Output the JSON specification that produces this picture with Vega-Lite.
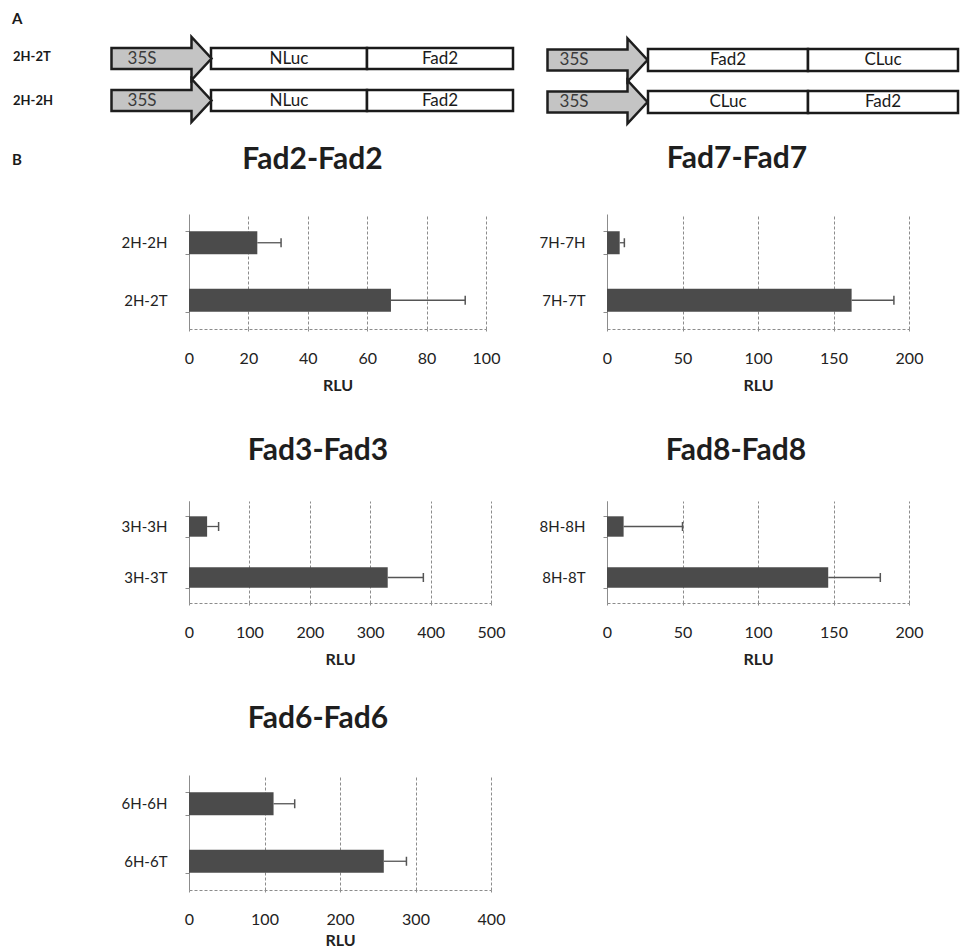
{
  "$schema": "https://vega.github.io/schema/vega-lite/v6.json",
  "padding": 0,
  "background": "white",
  "bounds": "flush",
  "columns": 3,
  "align": {"row": "each", "column": "none"},
  "spacing": {"row": 172, "column": 116},
  "config": {
    "view": {"stroke": null},
    "font": "Lato",
    "axisX": {"grid": true, "gridDash": [3, 2], "gridColor": "#8c8c8c", "domainDash": [3, 2], "domainColor": "#8c8c8c", "tickDash": [2, 2], "tickColor": "#8c8c8c", "tickSize": 4, "labelFont": "Lato", "labelFontSize": 16, "labelColor": "#222222", "labelPadding": 17, "labelFlush": false, "titleFont": "Lato", "titleFontSize": 16, "titleFontWeight": "bold", "titleColor": "#222222", "titleBaseline": "alphabetic", "titleY": 61},
    "axisY": {"domainColor": "#8c8c8c", "tickColor": "#8c8c8c", "tickSize": 4, "tickBand": "extent", "labelFont": "Lato", "labelFontSize": 15, "labelColor": "#222222", "labelPadding": 18, "grid": false},
    "title": {"font": "Lato", "fontSize": 30, "fontWeight": "bold", "color": "#1e1e1e", "frame": "group", "anchor": "middle", "baseline": "alphabetic"}
  },
  "concat": [
    {
      "width": 10,
      "height": 42,
      "layer": [
        {
          "data": {"values": [
            {"x0": 211, "x1": 367, "y0": 48, "y1": 69},
            {"x0": 367, "x1": 513, "y0": 48, "y1": 69},
            {"x0": 211, "x1": 367, "y0": 90, "y1": 111},
            {"x0": 367, "x1": 513, "y0": 90, "y1": 111},
            {"x0": 648, "x1": 808, "y0": 49, "y1": 71},
            {"x0": 808, "x1": 958, "y0": 49, "y1": 71},
            {"x0": 648, "x1": 808, "y0": 91, "y1": 113},
            {"x0": 808, "x1": 958, "y0": 91, "y1": 113}
          ]},
          "mark": {"type": "rect", "fill": "white", "stroke": "#1a1a1a", "strokeWidth": 2.5},
          "encoding": {
            "x": {"field": "x0", "type": "quantitative", "scale": {"domain": [0, 960], "range": [0, 960], "nice": false, "zero": false}, "axis": null},
            "x2": {"field": "x1"},
            "y": {"field": "y0", "type": "quantitative", "scale": {"domain": [0, 160], "range": [0, 160], "nice": false, "zero": false}, "axis": null},
            "y2": {"field": "y1"}
          }
        },
        {
          "data": {"values": [
            {"mid": 289, "ym": 58.5, "label": "NLuc"},
            {"mid": 440, "ym": 58.5, "label": "Fad2"},
            {"mid": 289, "ym": 100.5, "label": "NLuc"},
            {"mid": 440, "ym": 100.5, "label": "Fad2"},
            {"mid": 728, "ym": 60, "label": "Fad2"},
            {"mid": 883, "ym": 60, "label": "CLuc"},
            {"mid": 728, "ym": 102, "label": "CLuc"},
            {"mid": 883, "ym": 102, "label": "Fad2"}
          ]},
          "mark": {"type": "text", "font": "Lato", "fontSize": 17, "color": "#1a1a1a", "align": "center", "baseline": "middle"},
          "encoding": {
            "x": {"field": "mid", "type": "quantitative", "scale": {"domain": [0, 960], "range": [0, 960], "nice": false, "zero": false}, "axis": null},
            "y": {"field": "ym", "type": "quantitative", "scale": {"domain": [0, 160], "range": [0, 160], "nice": false, "zero": false}, "axis": null},
            "text": {"field": "label"}
          }
        },
        {
          "data": {"values": [
            {"ax": 161.5, "ay": 58.5, "tx": 142, "label": "35S"},
            {"ax": 161.5, "ay": 100.5, "tx": 142, "label": "35S"},
            {"ax": 597.5, "ay": 60, "tx": 574, "label": "35S"},
            {"ax": 597.5, "ay": 102, "tx": 574, "label": "35S"}
          ]},
          "layer": [
            {
              "mark": {"type": "point", "shape": "M-1,-0.21L0.6,-0.21L0.6,-0.43L1,0L0.6,0.43L0.6,0.21L-1,0.21Z", "size": 10000, "filled": true, "fill": "#c4c4c4", "stroke": "#1e1e1e", "strokeWidth": 2.5, "opacity": 1, "fillOpacity": 1},
              "encoding": {
                "x": {"field": "ax", "type": "quantitative", "scale": {"domain": [0, 960], "range": [0, 960], "nice": false, "zero": false}, "axis": null},
                "y": {"field": "ay", "type": "quantitative", "scale": {"domain": [0, 160], "range": [0, 160], "nice": false, "zero": false}, "axis": null}
              }
            },
            {
              "mark": {"type": "text", "font": "Lato", "fontSize": 17, "color": "#3a3a3a", "align": "center", "baseline": "middle"},
              "encoding": {
                "x": {"field": "tx", "type": "quantitative", "scale": {"domain": [0, 960], "range": [0, 960], "nice": false, "zero": false}, "axis": null},
                "y": {"field": "ay", "type": "quantitative", "scale": {"domain": [0, 160], "range": [0, 160], "nice": false, "zero": false}, "axis": null},
                "text": {"field": "label"}
              }
            }
          ]
        },
        {
          "data": {"values": [
            {"lx": 13, "ly": 57, "label": "2H-2T"},
            {"lx": 13, "ly": 101, "label": "2H-2H"}
          ]},
          "mark": {"type": "text", "font": "Lato", "fontSize": 13, "fontWeight": "bold", "color": "#1a1a1a", "align": "left", "baseline": "middle"},
          "encoding": {
            "x": {"field": "lx", "type": "quantitative", "scale": {"domain": [0, 960], "range": [0, 960], "nice": false, "zero": false}, "axis": null},
            "y": {"field": "ly", "type": "quantitative", "scale": {"domain": [0, 160], "range": [0, 160], "nice": false, "zero": false}, "axis": null},
            "text": {"field": "label"}
          }
        },
        {
          "data": {"values": [
            {"lx": 12, "ly": 19, "label": "A"},
            {"lx": 12, "ly": 160, "label": "B"}
          ]},
          "mark": {"type": "text", "font": "Lato", "fontSize": 15, "fontWeight": "bold", "color": "#1a1a1a", "align": "left", "baseline": "middle"},
          "encoding": {
            "x": {"field": "lx", "type": "quantitative", "scale": {"domain": [0, 960], "range": [0, 960], "nice": false, "zero": false}, "axis": null},
            "y": {"field": "ly", "type": "quantitative", "scale": {"domain": [0, 160], "range": [0, 160], "nice": false, "zero": false}, "axis": null},
            "text": {"field": "label"}
          }
        }
      ]
    },
    {"width": 1, "height": 1, "data": {"values": []}, "mark": "point"},
    {"width": 1, "height": 1, "data": {"values": []}, "mark": "point"},
    {"width": 73, "height": 1, "data": {"values": []}, "mark": "point"},
    {
      "width": 297, "height": 115,
      "title": {"text": "Fad2-Fad2", "dx": -25, "offset": 32},
      "data": {"values": [
        {"sample": "2H-2H", "mean": 23, "upper": 31},
        {"sample": "2H-2T", "mean": 68, "upper": 93}
      ]},
      "encoding": {"y": {"field": "sample", "type": "nominal", "sort": null, "title": null, "scale": {"paddingInner": 0.6, "paddingOuter": 0.3}}},
      "layer": [
        {"mark": {"type": "bar", "color": "#4b4b4b"}, "encoding": {"x": {"field": "mean", "type": "quantitative", "scale": {"domain": [0, 100], "nice": false}, "axis": {"title": "RLU", "values": [0, 20, 40, 60, 80, 100]}}}},
        {"mark": {"type": "rule", "color": "#555555", "strokeWidth": 1.3}, "encoding": {"x": {"field": "mean", "type": "quantitative"}, "x2": {"field": "upper"}}},
        {"mark": {"type": "tick", "orient": "vertical", "size": 9, "thickness": 1.5, "color": "#555555", "opacity": 1}, "encoding": {"x": {"field": "upper", "type": "quantitative"}}}
      ]
    },
    {
      "width": 302, "height": 115,
      "title": {"text": "Fad7-Fad7", "dx": -21, "offset": 33},
      "data": {"values": [
        {"sample": "7H-7H", "mean": 8.4, "upper": 11.5},
        {"sample": "7H-7T", "mean": 162, "upper": 190}
      ]},
      "encoding": {"y": {"field": "sample", "type": "nominal", "sort": null, "title": null, "scale": {"paddingInner": 0.6, "paddingOuter": 0.3}}},
      "layer": [
        {"mark": {"type": "bar", "color": "#4b4b4b"}, "encoding": {"x": {"field": "mean", "type": "quantitative", "scale": {"domain": [0, 200], "nice": false}, "axis": {"title": "RLU", "values": [0, 50, 100, 150, 200]}}}},
        {"mark": {"type": "rule", "color": "#555555", "strokeWidth": 1.3}, "encoding": {"x": {"field": "mean", "type": "quantitative"}, "x2": {"field": "upper"}}},
        {"mark": {"type": "tick", "orient": "vertical", "size": 9, "thickness": 1.5, "color": "#555555", "opacity": 1}, "encoding": {"x": {"field": "upper", "type": "quantitative"}}}
      ]
    },
    {"width": 68, "height": 1, "data": {"values": []}, "mark": "point"},
    {
      "width": 302, "height": 102,
      "title": {"text": "Fad3-Fad3", "dx": -22, "offset": 28},
      "data": {"values": [
        {"sample": "3H-3H", "mean": 30, "upper": 49},
        {"sample": "3H-3T", "mean": 329, "upper": 388}
      ]},
      "encoding": {"y": {"field": "sample", "type": "nominal", "sort": null, "title": null, "scale": {"paddingInner": 0.6, "paddingOuter": 0.3}}},
      "layer": [
        {"mark": {"type": "bar", "color": "#4b4b4b"}, "encoding": {"x": {"field": "mean", "type": "quantitative", "scale": {"domain": [0, 500], "nice": false}, "axis": {"title": "RLU", "values": [0, 100, 200, 300, 400, 500]}}}},
        {"mark": {"type": "rule", "color": "#555555", "strokeWidth": 1.3}, "encoding": {"x": {"field": "mean", "type": "quantitative"}, "x2": {"field": "upper"}}},
        {"mark": {"type": "tick", "orient": "vertical", "size": 9, "thickness": 1.5, "color": "#555555", "opacity": 1}, "encoding": {"x": {"field": "upper", "type": "quantitative"}}}
      ]
    },
    {
      "width": 302, "height": 102,
      "title": {"text": "Fad8-Fad8", "dx": -22, "offset": 28},
      "data": {"values": [
        {"sample": "8H-8H", "mean": 11, "upper": 50},
        {"sample": "8H-8T", "mean": 146.5, "upper": 181}
      ]},
      "encoding": {"y": {"field": "sample", "type": "nominal", "sort": null, "title": null, "scale": {"paddingInner": 0.6, "paddingOuter": 0.3}}},
      "layer": [
        {"mark": {"type": "bar", "color": "#4b4b4b"}, "encoding": {"x": {"field": "mean", "type": "quantitative", "scale": {"domain": [0, 200], "nice": false}, "axis": {"title": "RLU", "values": [0, 50, 100, 150, 200]}}}},
        {"mark": {"type": "rule", "color": "#555555", "strokeWidth": 1.3}, "encoding": {"x": {"field": "mean", "type": "quantitative"}, "x2": {"field": "upper"}}},
        {"mark": {"type": "tick", "orient": "vertical", "size": 9, "thickness": 1.5, "color": "#555555", "opacity": 1}, "encoding": {"x": {"field": "upper", "type": "quantitative"}}}
      ]
    },
    {"width": 68, "height": 1, "data": {"values": []}, "mark": "point"},
    {
      "width": 302, "height": 115,
      "title": {"text": "Fad6-Fad6", "dx": -22, "offset": 34},
      "data": {"values": [
        {"sample": "6H-6H", "mean": 112, "upper": 140},
        {"sample": "6H-6T", "mean": 258, "upper": 288}
      ]},
      "encoding": {"y": {"field": "sample", "type": "nominal", "sort": null, "title": null, "scale": {"paddingInner": 0.6, "paddingOuter": 0.3}}},
      "layer": [
        {"mark": {"type": "bar", "color": "#4b4b4b"}, "encoding": {"x": {"field": "mean", "type": "quantitative", "scale": {"domain": [0, 400], "nice": false}, "axis": {"title": "RLU", "titleY": 55, "values": [0, 100, 200, 300, 400]}}}},
        {"mark": {"type": "rule", "color": "#555555", "strokeWidth": 1.3}, "encoding": {"x": {"field": "mean", "type": "quantitative"}, "x2": {"field": "upper"}}},
        {"mark": {"type": "tick", "orient": "vertical", "size": 9, "thickness": 1.5, "color": "#555555", "opacity": 1}, "encoding": {"x": {"field": "upper", "type": "quantitative"}}}
      ]
    }
  ]
}
